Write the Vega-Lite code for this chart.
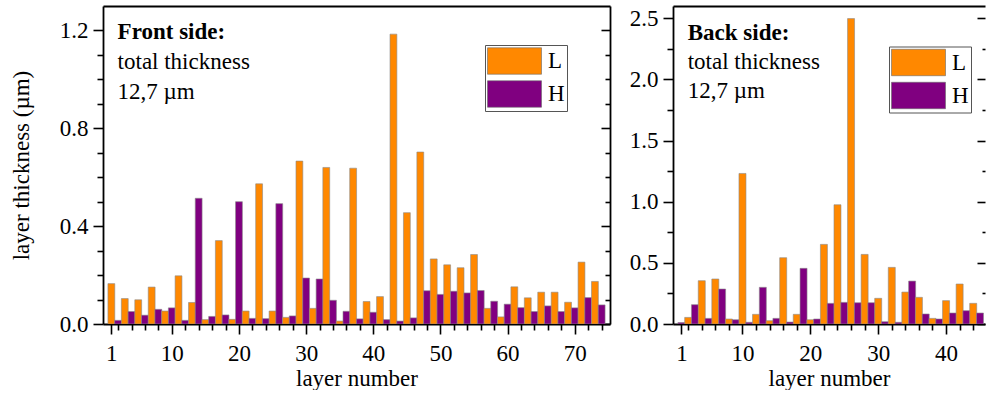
{
  "$schema": "https://vega.github.io/schema/vega-lite/v6.json",
  "background": "white",
  "padding": {"left": 10, "top": 6, "right": 0, "bottom": 0},
  "datasets": {
    "front": [
      {"layer": 1, "type": "L", "thickness": 0.165},
      {"layer": 2, "type": "H", "thickness": 0.015},
      {"layer": 3, "type": "L", "thickness": 0.104},
      {"layer": 4, "type": "H", "thickness": 0.051},
      {"layer": 5, "type": "L", "thickness": 0.099},
      {"layer": 6, "type": "H", "thickness": 0.036},
      {"layer": 7, "type": "L", "thickness": 0.151},
      {"layer": 8, "type": "H", "thickness": 0.060},
      {"layer": 9, "type": "L", "thickness": 0.053},
      {"layer": 10, "type": "H", "thickness": 0.066},
      {"layer": 11, "type": "L", "thickness": 0.197},
      {"layer": 12, "type": "H", "thickness": 0.015},
      {"layer": 13, "type": "L", "thickness": 0.088},
      {"layer": 14, "type": "H", "thickness": 0.514},
      {"layer": 15, "type": "L", "thickness": 0.018},
      {"layer": 16, "type": "H", "thickness": 0.031},
      {"layer": 17, "type": "L", "thickness": 0.341},
      {"layer": 18, "type": "H", "thickness": 0.037},
      {"layer": 19, "type": "L", "thickness": 0.019},
      {"layer": 20, "type": "H", "thickness": 0.500},
      {"layer": 21, "type": "L", "thickness": 0.053},
      {"layer": 22, "type": "H", "thickness": 0.023},
      {"layer": 23, "type": "L", "thickness": 0.573},
      {"layer": 24, "type": "H", "thickness": 0.022},
      {"layer": 25, "type": "L", "thickness": 0.053},
      {"layer": 26, "type": "H", "thickness": 0.492},
      {"layer": 27, "type": "L", "thickness": 0.027},
      {"layer": 28, "type": "H", "thickness": 0.033},
      {"layer": 29, "type": "L", "thickness": 0.666},
      {"layer": 30, "type": "H", "thickness": 0.188},
      {"layer": 31, "type": "L", "thickness": 0.064},
      {"layer": 32, "type": "H", "thickness": 0.184},
      {"layer": 33, "type": "L", "thickness": 0.640},
      {"layer": 34, "type": "H", "thickness": 0.097},
      {"layer": 35, "type": "L", "thickness": 0.012},
      {"layer": 36, "type": "H", "thickness": 0.052},
      {"layer": 37, "type": "L", "thickness": 0.637},
      {"layer": 38, "type": "H", "thickness": 0.021},
      {"layer": 39, "type": "L", "thickness": 0.092},
      {"layer": 40, "type": "H", "thickness": 0.048},
      {"layer": 41, "type": "L", "thickness": 0.112},
      {"layer": 42, "type": "H", "thickness": 0.018},
      {"layer": 43, "type": "L", "thickness": 1.185},
      {"layer": 44, "type": "H", "thickness": 0.012},
      {"layer": 45, "type": "L", "thickness": 0.455},
      {"layer": 46, "type": "H", "thickness": 0.025},
      {"layer": 47, "type": "L", "thickness": 0.703},
      {"layer": 48, "type": "H", "thickness": 0.136},
      {"layer": 49, "type": "L", "thickness": 0.266},
      {"layer": 50, "type": "H", "thickness": 0.121},
      {"layer": 51, "type": "L", "thickness": 0.242},
      {"layer": 52, "type": "H", "thickness": 0.134},
      {"layer": 53, "type": "L", "thickness": 0.230},
      {"layer": 54, "type": "H", "thickness": 0.127},
      {"layer": 55, "type": "L", "thickness": 0.284},
      {"layer": 56, "type": "H", "thickness": 0.137},
      {"layer": 57, "type": "L", "thickness": 0.064},
      {"layer": 58, "type": "H", "thickness": 0.093},
      {"layer": 59, "type": "L", "thickness": 0.029},
      {"layer": 60, "type": "H", "thickness": 0.081},
      {"layer": 61, "type": "L", "thickness": 0.152},
      {"layer": 62, "type": "H", "thickness": 0.067},
      {"layer": 63, "type": "L", "thickness": 0.107},
      {"layer": 64, "type": "H", "thickness": 0.051},
      {"layer": 65, "type": "L", "thickness": 0.130},
      {"layer": 66, "type": "H", "thickness": 0.074},
      {"layer": 67, "type": "L", "thickness": 0.130},
      {"layer": 68, "type": "H", "thickness": 0.051},
      {"layer": 69, "type": "L", "thickness": 0.089},
      {"layer": 70, "type": "H", "thickness": 0.066},
      {"layer": 71, "type": "L", "thickness": 0.253},
      {"layer": 72, "type": "H", "thickness": 0.108},
      {"layer": 73, "type": "L", "thickness": 0.174},
      {"layer": 74, "type": "H", "thickness": 0.078}
    ],
    "back": [
      {"layer": 1, "type": "H", "thickness": 0.012},
      {"layer": 2, "type": "L", "thickness": 0.054},
      {"layer": 3, "type": "H", "thickness": 0.158},
      {"layer": 4, "type": "L", "thickness": 0.354},
      {"layer": 5, "type": "H", "thickness": 0.046},
      {"layer": 6, "type": "L", "thickness": 0.368},
      {"layer": 7, "type": "H", "thickness": 0.286},
      {"layer": 8, "type": "L", "thickness": 0.041},
      {"layer": 9, "type": "H", "thickness": 0.035},
      {"layer": 10, "type": "L", "thickness": 1.231},
      {"layer": 11, "type": "H", "thickness": 0.014},
      {"layer": 12, "type": "L", "thickness": 0.079},
      {"layer": 13, "type": "H", "thickness": 0.300},
      {"layer": 14, "type": "L", "thickness": 0.027},
      {"layer": 15, "type": "H", "thickness": 0.046},
      {"layer": 16, "type": "L", "thickness": 0.542},
      {"layer": 17, "type": "H", "thickness": 0.016},
      {"layer": 18, "type": "L", "thickness": 0.079},
      {"layer": 19, "type": "H", "thickness": 0.455},
      {"layer": 20, "type": "L", "thickness": 0.035},
      {"layer": 21, "type": "H", "thickness": 0.041},
      {"layer": 22, "type": "L", "thickness": 0.651},
      {"layer": 23, "type": "H", "thickness": 0.169},
      {"layer": 24, "type": "L", "thickness": 0.975},
      {"layer": 25, "type": "H", "thickness": 0.177},
      {"layer": 26, "type": "L", "thickness": 2.497},
      {"layer": 27, "type": "H", "thickness": 0.174},
      {"layer": 28, "type": "L", "thickness": 0.569},
      {"layer": 29, "type": "H", "thickness": 0.174},
      {"layer": 30, "type": "L", "thickness": 0.210},
      {"layer": 31, "type": "H", "thickness": 0.019},
      {"layer": 32, "type": "L", "thickness": 0.463},
      {"layer": 33, "type": "H", "thickness": 0.014},
      {"layer": 34, "type": "L", "thickness": 0.261},
      {"layer": 35, "type": "H", "thickness": 0.351},
      {"layer": 36, "type": "L", "thickness": 0.218},
      {"layer": 37, "type": "H", "thickness": 0.082},
      {"layer": 38, "type": "L", "thickness": 0.046},
      {"layer": 39, "type": "H", "thickness": 0.041},
      {"layer": 40, "type": "L", "thickness": 0.191},
      {"layer": 41, "type": "H", "thickness": 0.090},
      {"layer": 42, "type": "L", "thickness": 0.327},
      {"layer": 43, "type": "H", "thickness": 0.109},
      {"layer": 44, "type": "L", "thickness": 0.169},
      {"layer": 45, "type": "H", "thickness": 0.090}
    ]
  },
  "hconcat": [
    {
      "width": 507,
      "height": 318,
      "data": {"name": "front"},
      "resolve": {"axis": {"x": "independent", "y": "independent"}},
      "layer": [
        {
          "mark": {"type": "bar", "width": 6.85, "stroke": "#8a8a8a", "strokeWidth": 0.6, "clip": true},
          "encoding": {
            "x": {"field": "layer", "type": "quantitative",
              "scale": {"domain": [0.5, 74.5], "nice": false, "zero": false},
              "axis": {"orient": "bottom", "values": [1, 10, 20, 30, 40, 50, 60, 70], "format": "d", "tickSize": 10, "labelPadding": 8, "labelFlush": false, "labelOverlap": false, "title": "layer number", "titlePadding": 2}},
            "y": {"field": "thickness", "type": "quantitative",
              "scale": {"domain": [0, 1.3], "nice": false},
              "axis": {"orient": "left", "values": [0, 0.4, 0.8, 1.2], "format": ".1f", "tickSize": 10, "labelPadding": 5, "title": "layer thickness (µm)", "titlePadding": 26}},
            "color": {"field": "type", "type": "nominal",
              "scale": {"domain": ["L", "H"], "range": ["#ff8800", "#800080"]},
              "legend": {"orient": "none", "legendX": 382, "legendY": 39, "title": null, "symbolType": "M-1,-0.98H3V0.98H-1Z", "symbolSize": 729, "symbolStrokeColor": "#6a6a6a", "symbolStrokeWidth": 0.6, "symbolOpacity": 1, "labelFont": "Liberation Serif", "labelFontSize": 23, "labelColor": "black", "labelOffset": 33, "rowPadding": 3, "padding": 2, "strokeColor": "#555555", "fillColor": "white"}}
          }
        },
        {
          "data": {"values": [{"label": "Front side:"}]},
          "mark": {"type": "text", "font": "Liberation Serif", "fontSize": 23, "fontWeight": "bold", "align": "left", "baseline": "alphabetic"},
          "encoding": {
            "text": {"field": "label"},
            "x": {"datum": 1.93, "type": "quantitative", "axis": {"orient": "bottom", "values": [2, 4, 6, 8, 12, 14, 16, 18, 22, 24, 26, 28, 32, 34, 36, 38, 42, 44, 46, 48, 52, 54, 56, 58, 62, 64, 66, 68, 72, 74], "tickSize": 6, "labels": false, "domain": false, "title": null}},
            "y": {"datum": 1.165, "type": "quantitative", "axis": {"orient": "left", "values": [0.1, 0.2, 0.3, 0.5, 0.6, 0.7, 0.9, 1.0, 1.1], "tickSize": 6, "labels": false, "domain": false, "title": null}}
          }
        },
        {
          "data": {"values": [{"label": "total thickness|12,7 µm"}]},
          "mark": {"type": "text", "font": "Liberation Serif", "fontSize": 23, "align": "left", "baseline": "alphabetic", "lineBreak": "|", "lineHeight": 29.5},
          "encoding": {
            "text": {"field": "label"},
            "x": {"datum": 1.93, "type": "quantitative", "axis": {"orient": "top", "ticks": false, "labels": false, "domain": true, "title": null}},
            "y": {"datum": 1.042, "type": "quantitative", "axis": {"orient": "right", "values": [0, 0.4, 0.8, 1.2], "tickSize": -9, "labels": false, "domain": true, "title": null}}
          }
        },
        {
          "data": {"values": [{"label": ""}]},
          "mark": {"type": "text", "font": "Liberation Serif", "fontSize": 23},
          "encoding": {
            "text": {"field": "label"},
            "x": {"datum": 1.93, "type": "quantitative", "axis": {"orient": "top", "ticks": false, "labels": false, "domain": false, "title": null}},
            "y": {"datum": 1.0, "type": "quantitative", "axis": {"orient": "right", "values": [0.1, 0.2, 0.3, 0.5, 0.6, 0.7, 0.9, 1.0, 1.1], "tickSize": -5, "labels": false, "domain": false, "title": null}}
          }
        }
      ]
    },
    {
      "width": 312,
      "height": 318,
      "data": {"name": "back"},
      "resolve": {"axis": {"x": "independent", "y": "independent"}},
      "layer": [
        {
          "mark": {"type": "bar", "width": 7.0, "stroke": "#8a8a8a", "strokeWidth": 0.6, "clip": true},
          "encoding": {
            "x": {"field": "layer", "type": "quantitative",
              "scale": {"domain": [0.5, 45], "nice": false, "zero": false},
              "axis": {"orient": "bottom", "values": [1, 10, 20, 30, 40], "format": "d", "tickSize": 10, "labelPadding": 8, "labelFlush": false, "labelOverlap": false, "title": "layer number", "titlePadding": 2}},
            "y": {"field": "thickness", "type": "quantitative",
              "scale": {"domain": [0, 2.6], "nice": false},
              "axis": {"orient": "left", "values": [0, 0.5, 1.0, 1.5, 2.0, 2.5], "format": ".1f", "tickSize": 10, "labelPadding": 5, "title": null}},
            "color": {"field": "type", "type": "nominal",
              "scale": {"domain": ["L", "H"], "range": ["#ff8800", "#800080"]},
              "legend": {"orient": "none", "legendX": 216, "legendY": 40.5, "title": null, "symbolType": "M-1,-0.98H3V0.98H-1Z", "symbolSize": 729, "symbolStrokeColor": "#6a6a6a", "symbolStrokeWidth": 0.6, "symbolOpacity": 1, "labelFont": "Liberation Serif", "labelFontSize": 23, "labelColor": "black", "labelOffset": 33, "rowPadding": 3, "padding": 2, "strokeColor": "#555555", "fillColor": "white"}}
          }
        },
        {
          "data": {"values": [{"label": "Back side:"}]},
          "mark": {"type": "text", "font": "Liberation Serif", "fontSize": 23, "fontWeight": "bold", "align": "left", "baseline": "alphabetic"},
          "encoding": {
            "text": {"field": "label"},
            "x": {"datum": 1.93, "type": "quantitative", "axis": {"orient": "bottom", "values": [2, 4, 6, 8, 12, 14, 16, 18, 22, 24, 26, 28, 32, 34, 36, 38, 42, 44], "tickSize": 6, "labels": false, "domain": false, "title": null}},
            "y": {"datum": 2.322, "type": "quantitative", "axis": {"orient": "left", "values": [0.25, 0.75, 1.25, 1.75, 2.25], "tickSize": 6, "labels": false, "domain": false, "title": null}}
          }
        },
        {
          "data": {"values": [{"label": "total thickness|12,7 µm"}]},
          "mark": {"type": "text", "font": "Liberation Serif", "fontSize": 23, "align": "left", "baseline": "alphabetic", "lineBreak": "|", "lineHeight": 29.5},
          "encoding": {
            "text": {"field": "label"},
            "x": {"datum": 1.93, "type": "quantitative", "axis": {"orient": "top", "ticks": false, "labels": false, "domain": true, "title": null}},
            "y": {"datum": 2.085, "type": "quantitative", "axis": {"orient": "right", "values": [0, 0.5, 1.0, 1.5, 2.0, 2.5], "tickSize": -8, "labels": false, "domain": false, "title": null}}
          }
        },
        {
          "data": {"values": [{"label": ""}]},
          "mark": {"type": "text", "font": "Liberation Serif", "fontSize": 23},
          "encoding": {
            "text": {"field": "label"},
            "x": {"datum": 1.93, "type": "quantitative", "axis": {"orient": "top", "ticks": false, "labels": false, "domain": false, "title": null}},
            "y": {"datum": 2.0, "type": "quantitative", "axis": {"orient": "right", "values": [0.25, 0.75, 1.25, 1.75, 2.25], "tickSize": -3, "labels": false, "domain": false, "title": null}}
          }
        }
      ]
    }
  ],
  "spacing": 63,
  "bounds": "flush",
  "resolve": {"scale": {"color": "independent"}, "legend": {"color": "independent"}},
  "config": {
    "font": "Liberation Serif",
    "view": {"stroke": null},
    "axis": {
      "labelFont": "Liberation Serif", "labelFontSize": 23, "labelColor": "black",
      "titleFont": "Liberation Serif", "titleFontSize": 23, "titleFontWeight": "normal", "titleColor": "black",
      "domainColor": "black", "domainWidth": 1.8, "tickColor": "black", "tickWidth": 1.6, "grid": false
    }
  }
}
